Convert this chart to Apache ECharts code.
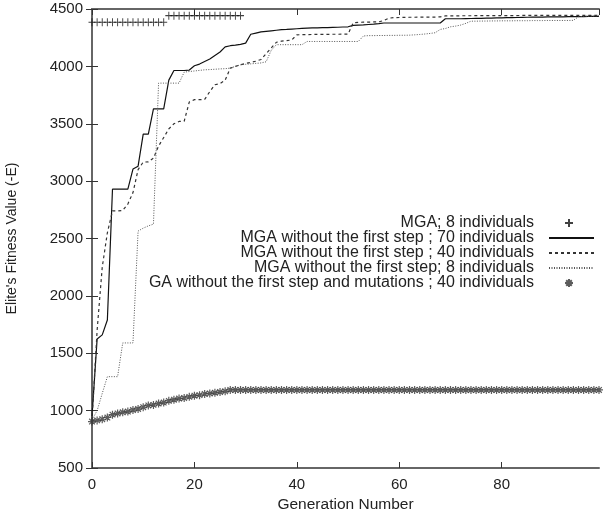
<!DOCTYPE html>
<html><head><meta charset="utf-8">
<script src="https://cdn.jsdelivr.net/npm/echarts@6/dist/echarts.min.js"></script>
<style>html,body{margin:0;padding:0;background:#fff}#c{width:603px;height:512px}</style>
</head><body><div id="c"></div>
<script>
// Series names
var names = [
  'MGA; 8 individuals',
  'MGA without the first step ; 70 individuals',
  'MGA without the first step ; 40 individuals',
  'MGA without the first step; 8 individuals',
  'GA without the first step and mutations ; 40 individuals'
];
// MGA; 8 individuals (generations 0..29)
var mga8 = [4385,4385,4385,4385,4385,4385,4385,4385,4385,4385,4385,4385,4385,4385,4385,
            4442,4442,4442,4442,4442,4442,4442,4442,4442,4442,4442,4442,4442,4442,4442];
// MGA without the first step ; 70 individuals (generations 0..99)
var mga70 = [950,1625,1660,1790,2930,2930,2930,2930,3105,3130,
             3410,3410,3630,3630,3630,3880,3964,3964,3964,3968,
             4005,4020,4042,4064,4095,4125,4170,4180,4185,4192,
             4203,4280,4290,4300,4305,4310,4315,4320,4322,4325,
             4328,4331,4334,4335,4336,4337,4338,4340,4341,4343,
             4345,4357,4360,4362,4365,4368,4372,4378,4378,4378,
             4378,4378,4378,4378,4378,4378,4378,4378,4378,4415,
             4415,4415,4415,4416,4417,4418,4419,4420,4421,4422,
             4423,4424,4425,4426,4427,4428,4429,4430,4430,4431,
             4431,4432,4432,4433,4433,4434,4434,4435,4435,4436];
// MGA without the first step ; 40 individuals
var mga40 = [920,1700,2250,2550,2740,2740,2745,2800,2900,3100,
             3166,3168,3200,3305,3380,3455,3500,3520,3522,3690,
             3710,3710,3712,3780,3840,3850,3880,3985,4000,4014,
             4025,4035,4045,4060,4110,4160,4210,4220,4225,4230,
             4275,4276,4277,4278,4278,4279,4279,4280,4280,4281,
             4282,4380,4384,4385,4386,4387,4388,4400,4420,4425,
             4426,4427,4428,4428,4429,4429,4430,4430,4431,4440,
             4440,4440,4441,4441,4441,4442,4442,4442,4442,4443,
             4443,4443,4443,4443,4444,4444,4444,4444,4444,4444,
             4445,4445,4445,4445,4445,4445,4445,4445,4445,4445];
// MGA without the first step; 8 individuals
var mga8wo = [920,1000,1150,1296,1296,1296,1590,1590,1590,2565,
              2590,2610,2625,3854,3854,3854,3854,3854,3950,3955,
              3960,3965,3970,3972,3975,3978,3980,3985,4000,4014,
              4018,4022,4026,4030,4040,4140,4189,4189,4189,4189,
              4189,4189,4217,4217,4217,4217,4217,4217,4217,4217,
              4217,4217,4217,4265,4268,4268,4269,4269,4270,4270,
              4271,4271,4272,4275,4278,4282,4287,4293,4322,4330,
              4345,4351,4360,4375,4394,4394,4395,4395,4396,4396,
              4397,4397,4397,4398,4398,4398,4399,4399,4399,4400,
              4400,4400,4400,4400,4401,4433,4436,4437,4438,4440];
// GA without the first step and mutations ; 40 individuals
var ga40 = [905,915,925,940,965,975,985,992,1005,1015,
            1030,1045,1050,1062,1070,1085,1095,1105,1110,1120,
            1130,1135,1145,1150,1155,1162,1168,1180,1180,1180,
            1180,1180,1180,1180,1180,1180,1180,1180,1180,1180,
            1180,1180,1180,1180,1180,1180,1180,1180,1180,1180,
            1180,1180,1180,1180,1180,1180,1180,1180,1180,1180,
            1180,1180,1180,1180,1180,1180,1180,1180,1180,1180,
            1180,1180,1180,1180,1180,1180,1180,1180,1180,1180,
            1180,1180,1180,1180,1180,1180,1180,1180,1180,1180,
            1180,1180,1180,1180,1180,1180,1180,1180,1180,1180];
var xLabels = ['0','20','40','60','80'];
var yTicks = [500,1000,1500,2000,2500,3000,3500,4000,4500];

function pairs(arr){ return arr.map(function(v,i){ return [i,v]; }); }

var FONT = 'Liberation Sans, Arial, sans-serif';
var plusPath = 'path://M0,5L10,5M5,0L5,10';
var starPath = 'path://M0,5L10,5M5,0L5,10M1.5,1.5L8.5,8.5M8.5,1.5L1.5,8.5';
var frame = {lineStyle:{color:'#666', width:2}};

var chart = echarts.init(document.getElementById('c'), null, {renderer:'canvas'});
var legendCenters = [223, 238, 253, 268, 283];
var legends = names.map(function(n,i){
  var isPt = (i===0 || i===4);
  var h = isPt ? 8 : 12;
  var o = {
    data:[n], right: isPt ? 29 : 8, top: legendCenters[i]-8, orient:'vertical', align:'right',
    itemWidth: isPt ? 8 : 45, itemHeight: h, itemGap: 0, selectedMode:false, padding:0,
    textStyle:{fontSize:16, lineHeight:16, color:'#222', fontFamily:FONT, padding:[0, isPt ? 26 : 10, 0, 0]}
  };
  if (!isPt) o.itemStyle = {opacity:0};
  return o;
});

chart.setOption({
  animation:false,
  backgroundColor:'#fff',
  grid:{left:92, right:4, top:9, bottom:44, containLabel:false, outerBoundsMode:'none'},
  legend: legends,
  xAxis:[{
    type:'value', min:0, max:99, interval:20, position:'bottom',
    axisLine:frame, axisTick:{inside:true, length:6, lineStyle:{color:'#333'}},
    splitLine:{show:false},
    axisLabel:{showMaxLabel:false, fontSize:15, color:'#222', fontFamily:FONT, margin:9,
      formatter:function(v){ var s=String(v); return xLabels.indexOf(s)>=0 ? s : ''; }},
    name:'Generation Number', nameLocation:'middle', nameGap:25,
    nameTextStyle:{fontSize:15.5, color:'#222', fontFamily:FONT}
  },{
    type:'value', min:0, max:99, interval:20, position:'top',
    axisLine:frame, axisTick:{inside:true, length:6, lineStyle:{color:'#333'}},
    axisLabel:{show:false}, splitLine:{show:false}
  }],
  yAxis:[{
    type:'value', min:500, max:4500, interval:500, position:'left',
    axisLine:frame, axisTick:{inside:true, length:6, lineStyle:{color:'#333'}},
    splitLine:{show:false},
    axisLabel:{fontSize:15, color:'#222', fontFamily:FONT, margin:9,
      formatter:function(v){ return yTicks.indexOf(v)>=0 ? String(v) : ''; }},
    name:"Elite's Fitness Value (-E)", nameLocation:'middle', nameGap:73,
    nameTextStyle:{fontSize:14, color:'#222', fontFamily:FONT}
  },{
    type:'value', min:500, max:4500, interval:500, position:'right',
    axisLine:frame, axisTick:{inside:true, length:6, lineStyle:{color:'#333'}},
    axisLabel:{show:false}, splitLine:{show:false}
  }],
  series:[
    {name:names[0], type:'scatter', data:pairs(mga8), symbol:plusPath, symbolSize:[7,8],
     itemStyle:{color:'transparent', borderColor:'#111', borderWidth:1}, z:3},
    {name:names[1], type:'line', data:pairs(mga70), symbol:'none',
     lineStyle:{color:'#111', width:1.2, type:'solid'}, itemStyle:{color:'#111'}},
    {name:names[2], type:'line', data:pairs(mga40), symbol:'none',
     lineStyle:{color:'#333', width:1.2, type:[3,3]}, itemStyle:{color:'#333'}},
    {name:names[3], type:'line', data:pairs(mga8wo), symbol:'none',
     lineStyle:{color:'#555', width:1, type:[1,1.5]}, itemStyle:{color:'#555'}},
    {name:names[4], type:'scatter', data:pairs(ga40), symbol:starPath, symbolSize:8,
     itemStyle:{color:'transparent', borderColor:'#333', borderWidth:1.2}, z:3}
  ]
});
</script></body></html>
